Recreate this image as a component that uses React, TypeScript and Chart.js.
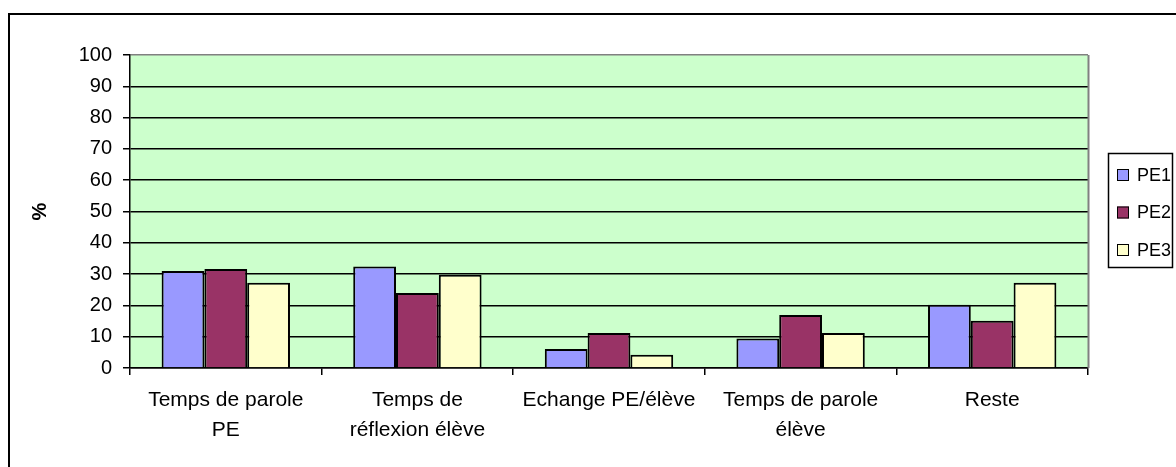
import React, { useEffect, useRef } from "react";
import { Chart, registerables } from "chart.js";

Chart.register(...registerables);

const categories: (string | string[])[] = [
  ["Temps de parole", "PE"],
  ["Temps de", "réflexion élève"],
  "Echange PE/élève",
  ["Temps de parole", "élève"],
  "Reste",
];
const seriesNames = ["PE1", "PE2", "PE3"];
const pe1 = [31.0, 32.4, 6.1, 9.4, 20.2];
const pe2 = [31.6, 24.0, 11.2, 16.9, 15.1];
const pe3 = [27.2, 29.8, 4.2, 11.2, 27.2];
const seriesColors = ["#9999FF", "#993366", "#FFFFCC"];
const yMin = 0;
const yMax = 100;
const yStep = 10;
const yTitle = "%";

const FONT = "'Liberation Sans', Arial, sans-serif";

const decorPlugin = {
  id: "decor",
  beforeDraw(chart: any) {
    const { ctx, chartArea } = chart;
    ctx.save();
    ctx.fillStyle = "#FFFFFF";
    ctx.fillRect(0, 0, chart.width, chart.height);
    ctx.fillStyle = "#CCFFCC";
    ctx.fillRect(chartArea.left, chartArea.top, chartArea.right - chartArea.left, chartArea.bottom - chartArea.top);
    ctx.restore();
  },
  afterDraw(chart: any) {
    const { ctx, chartArea } = chart;
    ctx.save();
    // right border of plot area (grey)
    ctx.strokeStyle = "#808080";
    ctx.lineWidth = 2;
    ctx.beginPath();
    ctx.moveTo(chartArea.right + 0.5, chartArea.top);
    ctx.lineTo(chartArea.right + 0.5, chartArea.bottom);
    ctx.stroke();
    // outer frame (top and left visible)
    ctx.strokeStyle = "#000000";
    ctx.lineWidth = 2;
    ctx.beginPath();
    ctx.moveTo(9, chart.height + 5);
    ctx.lineTo(9, 14);
    ctx.lineTo(chart.width + 5, 14);
    ctx.stroke();
    // legend
    const lx = 1108, ly = 153, lw = 64, lh = 114;
    ctx.fillStyle = "#FFFFFF";
    ctx.fillRect(lx, ly, lw, lh);
    ctx.lineWidth = 1.5;
    ctx.strokeRect(lx + 0.5, ly + 0.5, lw, lh);
    ctx.font = "18px " + FONT;
    ctx.textBaseline = "middle";
    ctx.textAlign = "left";
    const ys = [175, 212.5, 250];
    chart.data.datasets.forEach((ds: any, i: number) => {
      const cy = ys[i];
      ctx.fillStyle = ds.backgroundColor;
      ctx.fillRect(1117, cy - 6, 12, 12);
      ctx.strokeStyle = "#000";
      ctx.lineWidth = 1;
      ctx.strokeRect(1117.5, cy - 5.5, 11, 11);
      ctx.fillStyle = "#000";
      ctx.fillText(ds.label, 1137, cy + 1);
    });
    ctx.restore();
  },
};

export default function App() {
  const ref = useRef<HTMLCanvasElement | null>(null);
  useEffect(() => {
    if (!ref.current) return;
    const data = [pe1, pe2, pe3];
    const chart = new Chart(ref.current, {
      type: "bar",
      data: {
        labels: categories,
        datasets: seriesNames.map((name, i) => ({
          label: name,
          data: data[i],
          backgroundColor: seriesColors[i],
          borderColor: "#000000",
          borderWidth: 2,
          categoryPercentage: 0.67,
          barPercentage: 1.0,
        })),
      },
      options: {
        animation: false,
        responsive: false,
        maintainAspectRatio: false,
        devicePixelRatio: 1,
        layout: { padding: { left: 0, right: 88, top: 55, bottom: 0 } },
        plugins: {
          legend: { display: false },
          tooltip: { enabled: false },
        },
        scales: {
          x: {
            offset: true,
            grid: {
              display: true,
              drawOnChartArea: false,
              drawTicks: true,
              tickLength: 7,
              color: "#000000",
              lineWidth: 1.5,
              offset: true,
            },
            border: { color: "#000000", width: 1.5 },
            ticks: {
              color: "#000000",
              font: { family: FONT, size: 21, lineHeight: 30 / 21 },
              padding: 10,
              maxRotation: 0,
              autoSkip: false,
            },
            afterFit: (scale: any) => {
              scale.height = 99;
            },
          },
          y: {
            min: yMin,
            max: yMax,
            ticks: {
              stepSize: yStep,
              color: "#000000",
              font: { family: FONT, size: 20 },
              padding: 11,
            },
            grid: {
              color: (c: any) => (c.tick && c.tick.value === yMax ? "#808080" : "#000000"),
              tickColor: "#000000",
              lineWidth: 1.5,
              tickLength: 7,
            },
            border: { color: "#000000", width: 1.5 },
            title: {
              display: true,
              text: yTitle,
              color: "#000000",
              font: { family: FONT, size: 20, weight: "bold" },
              padding: { top: 28, bottom: 0 },
            },
            afterFit: (scale: any) => {
              scale.width = 130;
            },
          },
        },
      },
      plugins: [decorPlugin],
    });
    return () => chart.destroy();
  }, []);
  return (
    <div style={{ position: "fixed", left: 0, top: 0, width: 1176, height: 467, overflow: "hidden" }}>
      <canvas ref={ref} width={1176} height={467} style={{ display: "block", width: 1176, height: 467 }} />
    </div>
  );
}
